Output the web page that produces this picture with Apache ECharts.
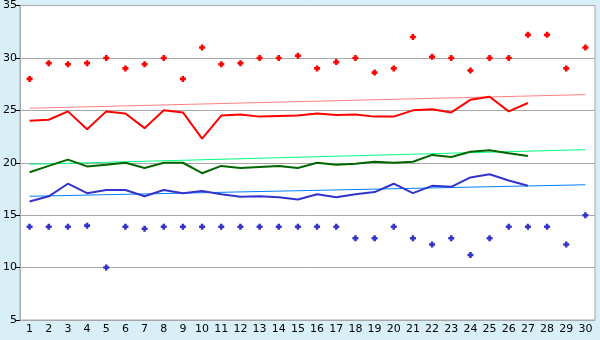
<!DOCTYPE html>
<html>
<head>
<meta charset="utf-8">
<script src="https://cdn.jsdelivr.net/npm/echarts@6/dist/echarts.min.js"></script>
<style>
html,body{margin:0;padding:0;background:#d9eff7;}
#c{width:600px;height:340px;}
</style>
</head>
<body>
<div id="c"></div>
<script>
var days = ['1','2','3','4','5','6','7','8','9','10','11','12','13','14','15','16','17','18','19','20','21','22','23','24','25','26','27','28','29','30'];
var maxPoints = [28.0,29.5,29.4,29.5,30.0,29.0,29.4,30.0,28.0,31.0,29.4,29.5,30.0,30.0,30.2,29.0,29.6,30.0,28.6,29.0,32.0,30.1,30.0,28.8,30.0,30.0,32.2,32.2,29.0,31.0];
var minPoints = [13.9,13.9,13.9,14.0,10.0,13.9,13.7,13.9,13.9,13.9,13.9,13.9,13.9,13.9,13.9,13.9,13.9,12.8,12.8,13.9,12.8,12.2,12.8,11.2,12.8,13.9,13.9,13.9,12.2,15.0];
var maxAvg = [24.0,24.1,24.9,23.2,24.9,24.7,23.3,25.0,24.8,22.3,24.5,24.6,24.4,24.45,24.5,24.7,24.55,24.6,24.4,24.4,25.0,25.1,24.8,26.0,26.3,24.9,25.7];
var meanAvg = [19.1,19.7,20.3,19.65,19.8,20.0,19.5,20.0,20.0,19.0,19.7,19.5,19.6,19.7,19.5,20.0,19.8,19.9,20.1,20.0,20.1,20.75,20.55,21.05,21.2,20.9,20.65];
var minAvg = [16.3,16.8,18.0,17.1,17.4,17.4,16.8,17.4,17.1,17.3,17.0,16.75,16.8,16.7,16.5,17.0,16.7,17.0,17.2,18.0,17.1,17.8,17.7,18.6,18.9,18.3,17.8];
var maxTrend = [25.2, 26.5];
var meanTrend = [19.85, 21.25];
var minTrend = [16.8, 17.9];
var yTicks = [5, 35, 5];

function trend(t){ return [[0, t[0]], [days.length - 1, t[1]]]; }
var sym = 'path://M2,0H5V2H7V5H5V7H2V5H0V2H2Z';
var chart = echarts.init(document.getElementById('c'));
chart.setOption({
  backgroundColor: '#d9eff7',
  animation: false,
  grid: {left: 20, right: 5, top: 5, bottom: 20, show: true, backgroundColor: '#ffffff', borderColor: '#a8a8a8', borderWidth: 1},
  xAxis: {
    type: 'category', data: days, boundaryGap: true,
    axisLine: {lineStyle: {color: '#a8a8a8', width: 1}},
    axisTick: {alignWithLabel: true, length: 5, lineStyle: {color: '#000'}},
    axisLabel: {color: '#000', fontFamily: 'DejaVu Sans', fontSize: 11, margin: 4, interval: 0},
    splitLine: {show: false}
  },
  yAxis: {
    type: 'value', min: yTicks[0], max: yTicks[1], interval: yTicks[2],
    axisLine: {show: true, lineStyle: {color: '#a8a8a8', width: 1}},
    axisTick: {show: true, length: 4, lineStyle: {color: '#000'}},
    axisLabel: {color: '#000', fontFamily: 'DejaVu Sans', fontSize: 11, margin: 3},
    splitLine: {lineStyle: {color: '#a8a8a8', width: 1}}
  },
  series: [
    {type: 'line', data: trend(maxTrend), symbol: 'none', lineStyle: {color: '#ff8080', width: 1}},
    {type: 'line', data: trend(meanTrend), symbol: 'none', lineStyle: {color: '#00ff80', width: 1}},
    {type: 'line', data: trend(minTrend), symbol: 'none', lineStyle: {color: '#0080ff', width: 1}},
    {type: 'line', data: maxAvg, symbol: 'none', lineStyle: {color: '#ff0000', width: 2}},
    {type: 'line', data: meanAvg, symbol: 'none', lineStyle: {color: '#006600', width: 2}},
    {type: 'line', data: minAvg, symbol: 'none', lineStyle: {color: '#3333cc', width: 2}},
    {type: 'scatter', data: maxPoints, symbol: sym, symbolSize: 6, itemStyle: {color: '#ff0000', opacity: 1}},
    {type: 'scatter', data: minPoints, symbol: sym, symbolSize: 6, itemStyle: {color: '#3333cc', opacity: 1}}
  ]
});
</script>
</body>
</html>
